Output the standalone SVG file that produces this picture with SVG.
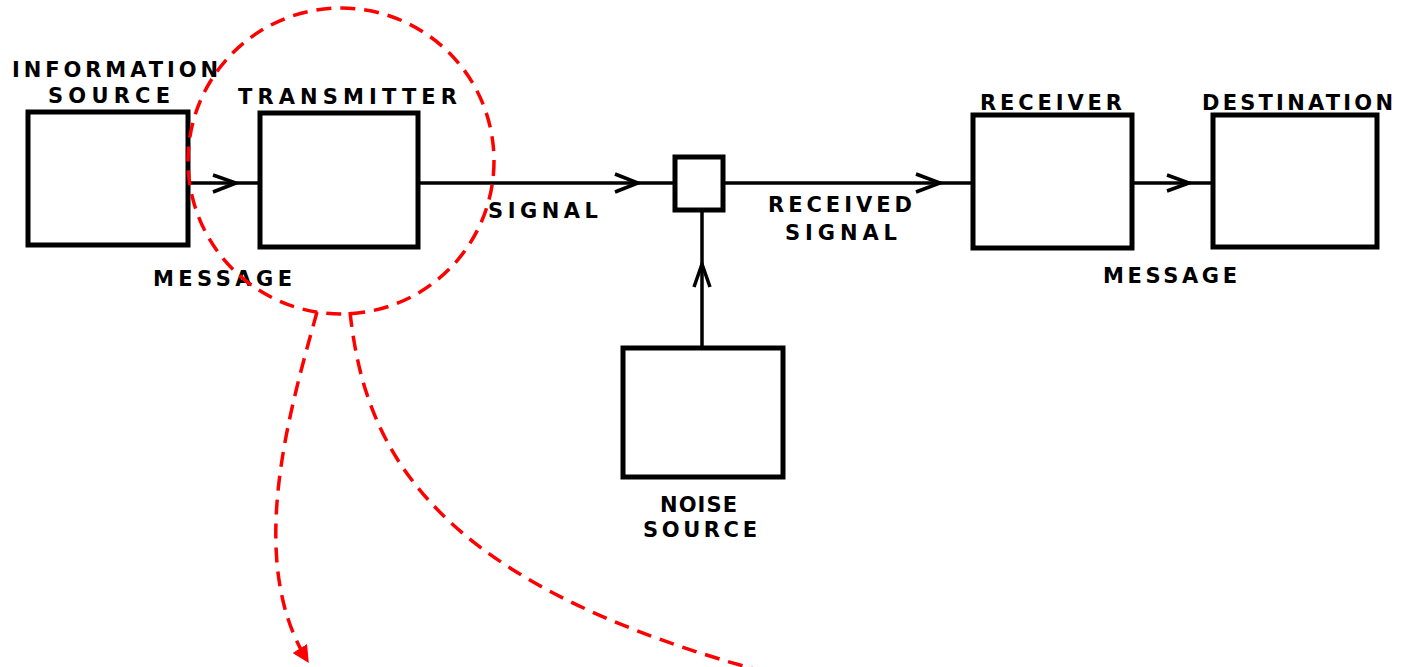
<svg xmlns="http://www.w3.org/2000/svg" width="1403" height="667" viewBox="0 0 1403 667">
<style>
.box{fill:#fff;stroke:#000;stroke-width:5}
.ln{fill:none;stroke:#000;stroke-width:3.5}
.chev{fill:none;stroke:#000;stroke-width:3.5;stroke-linejoin:miter}
.lbl{font-family:"DejaVu Sans","Liberation Sans",Arial,sans-serif;font-weight:bold;font-size:21px;fill:#000}
.red{fill:none;stroke:#f00;stroke-width:3.5;stroke-dasharray:15 9}
</style>
<defs>
<marker id="redhead" viewBox="0 0 10 10" refX="8" refY="5" markerWidth="17" markerHeight="17" orient="auto" markerUnits="userSpaceOnUse">
<path d="M0,0 L10,5 L0,10 z" fill="#f00"/>
</marker>
</defs>
<rect width="1403" height="667" fill="#fff"/>
<g id="connectors">
<line class="ln" x1="188" y1="183" x2="260" y2="183"/>
<path class="chev" d="M213,175 L236,183 L213,192"/>
<line class="ln" x1="418" y1="183" x2="675" y2="183"/>
<path class="chev" d="M615,174 L638,183 L615,192"/>
<line class="ln" x1="723" y1="183" x2="973" y2="183"/>
<path class="chev" d="M916,174 L940,183 L916,192"/>
<line class="ln" x1="1132" y1="183" x2="1213" y2="183"/>
<path class="chev" d="M1167,175 L1189,183 L1167,191"/>
<line class="ln" x1="702" y1="210" x2="702" y2="348"/>
<path class="chev" d="M694,287 L702,264 L710,287"/>
</g>
<g id="information-source">
<rect class="box" x="28" y="112" width="160" height="133"/>
<text class="lbl" x="12" y="77" textLength="206" lengthAdjust="spacing">INFORMATION</text>
<text class="lbl" x="48" y="103" textLength="122" lengthAdjust="spacing">SOURCE</text>
</g>
<g id="message-label-1">
<text class="lbl" x="153" y="286" textLength="139" lengthAdjust="spacing">MESSAGE</text>
</g>
<g id="transmitter">
<rect class="box" x="260" y="113" width="158" height="134"/>
<text class="lbl" x="238" y="104" textLength="219" lengthAdjust="spacing">TRANSMITTER</text>
</g>
<g id="signal-label">
<text class="lbl" x="488" y="218" textLength="110" lengthAdjust="spacing">SIGNAL</text>
</g>
<g id="junction">
<rect class="box" x="675" y="157" width="48" height="53"/>
</g>
<g id="received-signal-label">
<text class="lbl" x="768" y="212" textLength="144" lengthAdjust="spacing">RECEIVED</text>
<text class="lbl" x="785" y="240" textLength="112" lengthAdjust="spacing">SIGNAL</text>
</g>
<g id="receiver">
<rect class="box" x="973" y="115" width="159" height="133"/>
<text class="lbl" x="980" y="110" textLength="142" lengthAdjust="spacing">RECEIVER</text>
</g>
<g id="destination">
<rect class="box" x="1213" y="115" width="164" height="132"/>
<text class="lbl" x="1202" y="110" textLength="191" lengthAdjust="spacing">DESTINATION</text>
</g>
<g id="message-label-2">
<text class="lbl" x="1103" y="283" textLength="134" lengthAdjust="spacing">MESSAGE</text>
</g>
<g id="noise-source">
<rect class="box" x="623" y="348" width="160" height="129"/>
<text class="lbl" x="660" y="512" textLength="77" lengthAdjust="spacing">NOISE</text>
<text class="lbl" x="643" y="537" textLength="114" lengthAdjust="spacing">SOURCE</text>
</g>
<g id="highlight">
<circle class="red" cx="341" cy="161" r="153"/>
<path class="red" d="M317,312 C290,410 245,560 307,660" marker-end="url(#redhead)"/>
<path class="red" d="M350,312 C365,450 430,585 780,676"/>
</g>
</svg>
